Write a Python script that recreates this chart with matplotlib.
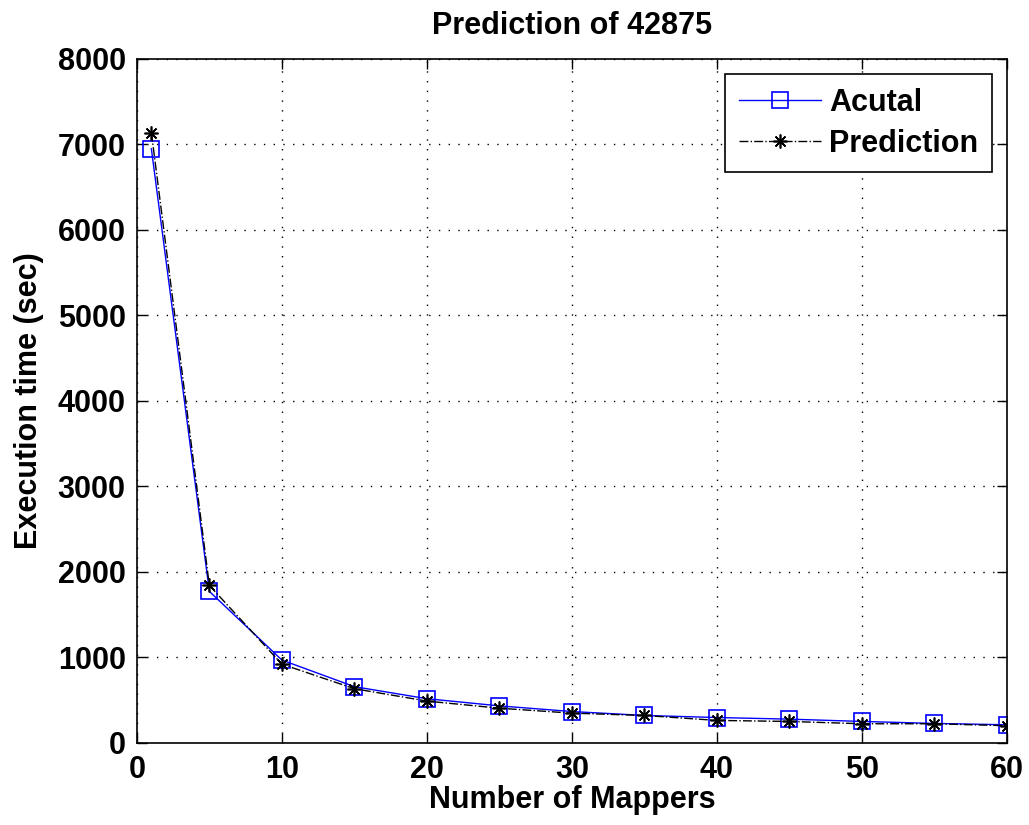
import matplotlib
matplotlib.use("Agg")
import matplotlib.pyplot as plt

plt.rcParams['font.family'] = ['Liberation Sans', 'DejaVu Sans']
plt.rcParams['font.weight'] = 'bold'

mappers = [1, 5, 10, 15, 20, 25, 30, 35, 40, 45, 50, 55, 60]
actual = [6950, 1773, 970, 659, 518, 434, 368, 322, 298, 279, 252, 229, 213]
prediction = [7140, 1843, 922, 635, 490, 407, 349, 322, 264, 252, 225, 225, 202]

fig = plt.figure(figsize=(10.29, 8.25), dpi=100)
ax = fig.add_axes([0.133, 0.0994, 0.8456, 0.8291])

ax.plot(mappers, actual, color='blue', linewidth=1.0, marker='s', markersize=12,
        markerfacecolor='none', markeredgecolor='blue', markeredgewidth=1.2, label='Acutal')
ax.plot(mappers, prediction, color='black', linewidth=1.0, linestyle='-.', marker=(8, 2, 0),
        markersize=10, markeredgewidth=1.2, label='Prediction')

ax.set_xlim(0, 60)
ax.set_ylim(0, 8000)
ax.set_xticks(range(0, 61, 10))
ax.set_yticks(range(0, 8001, 1000))
ax.set_axisbelow(True)
ax.grid(True, color='black', linestyle=(0, (1, 6)), linewidth=1.0)
ax.tick_params(direction='in', top=True, right=True, length=7, width=1, labelsize=22)
ax.tick_params(axis='x', pad=9)
ax.tick_params(axis='y', pad=8)
for lbl in ax.get_xticklabels() + ax.get_yticklabels():
    lbl.set_fontweight('bold')
for s in ax.spines.values():
    s.set_linewidth(1.2)

ax.set_xlabel('Number of Mappers', fontsize=22, fontweight='bold', labelpad=0)
ax.set_ylabel('Execution time (sec)', fontsize=22, fontweight='bold', labelpad=10)
ax.set_title('Prediction of 42875', fontsize=22, fontweight='bold', pad=18)

leg = ax.legend(loc='upper right', fontsize=22, fancybox=False, edgecolor='black',
                framealpha=1, handlelength=2.7, handletextpad=0.25, labelspacing=0.35,
                borderpad=0.45, borderaxespad=0.5)
leg.get_frame().set_linewidth(1.2)
for t in leg.get_texts():
    t.set_fontweight('bold')

fig.savefig('out.png', dpi=100)
